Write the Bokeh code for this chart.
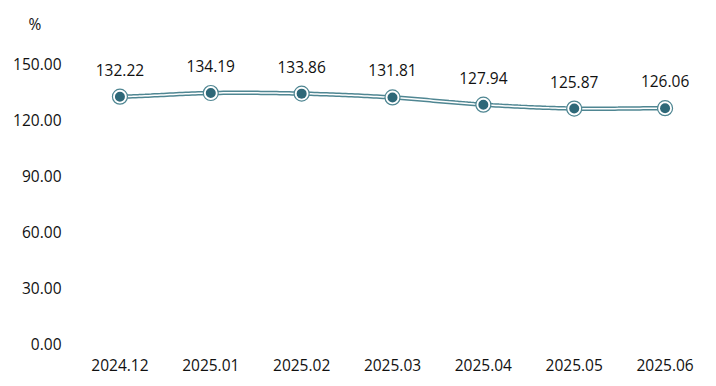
import numpy as np
from bokeh.plotting import figure
from bokeh.models import Range1d, ColumnDataSource, Title, FixedTicker
from bokeh.core.properties import value
from bokeh.embed import file_html
from bokeh.resources import INLINE

months = ["2024.12", "2025.01", "2025.02", "2025.03", "2025.04", "2025.05", "2025.06"]
rates = [132.22, 134.19, 133.86, 131.81, 127.94, 125.87, 126.06]
y_ticks = [0, 30, 60, 90, 120, 150]
unit = "%"

FONT = "Open Sans"
FS = "15.5px"
TEAL = "#2e6878"
LINE = "#4f8692"

xs = list(range(len(months)))

p = figure(width=716, height=386, output_backend="svg", toolbar_location=None,
           x_range=Range1d(-0.5, len(months) - 0.5), y_range=Range1d(0, 165),
           min_border_left=74, min_border_right=6, min_border_top=35, min_border_bottom=43)
p.outline_line_color = None
p.grid.visible = False
p.background_fill_color = "white"
p.border_fill_color = "white"

for ax in (p.xaxis[0], p.yaxis[0]):
    ax.axis_line_color = None
    ax.major_tick_line_color = None
    ax.minor_tick_line_color = None
    ax.major_label_text_font = FONT
    ax.major_label_text_font_size = FS
    ax.major_label_text_color = "#111111"

p.xaxis.ticker = FixedTicker(ticks=xs)
p.xaxis.major_label_overrides = {i: m for i, m in enumerate(months)}
p.xaxis.major_label_standoff = 9
p.yaxis.ticker = FixedTicker(ticks=y_ticks)
p.yaxis.major_label_overrides = {t: f"{t:.2f}" for t in y_ticks}
p.yaxis.major_label_standoff = 7

# smooth Catmull-Rom curve through the data points
px = np.array(xs, dtype=float)
py = np.array(rates, dtype=float)
ext_x = np.concatenate([[2 * px[0] - px[1]], px, [2 * px[-1] - px[-2]]])
ext_y = np.concatenate([[py[0]], py, [py[-1]]])
cx, cy = [], []
for i in range(1, len(ext_x) - 2):
    t = np.linspace(0, 1, 30)
    for arr, out in ((ext_x, cx), (ext_y, cy)):
        p0, p1, p2, p3 = arr[i - 1], arr[i], arr[i + 1], arr[i + 2]
        out.extend(0.5 * ((2 * p1) + (-p0 + p2) * t + (2 * p0 - 5 * p1 + 4 * p2 - p3) * t ** 2
                          + (-p0 + 3 * p1 - 3 * p2 + p3) * t ** 3))

p.line(cx, cy, line_color=LINE, line_width=4.5)
p.line(cx, cy, line_color="white", line_width=1.5)

src = ColumnDataSource(dict(x=xs, y=rates, lab=[f"{r:.2f}" for r in rates]))
p.scatter("x", "y", source=src, size=15, fill_color="white", line_color=LINE, line_width=1.2)
p.scatter("x", "y", source=src, size=10, fill_color=TEAL, line_color=None)
p.text("x", "y", text="lab", source=src, text_align="center", text_baseline="middle",
       y_offset=-27, text_font=value(FONT), text_font_size=FS, text_color="#111111")

p.add_layout(Title(text=unit, align="left", offset=-46, standoff=2,
                   text_font=FONT, text_font_size=FS, text_font_style="normal",
                   text_color="#111111"), "above")

open("out.html", "w").write(file_html(p, INLINE))
